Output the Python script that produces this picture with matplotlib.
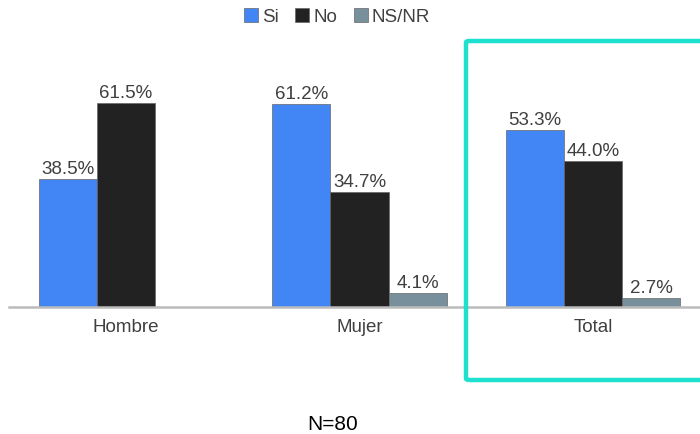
import matplotlib
matplotlib.use("Agg")
import matplotlib.pyplot as plt
import numpy as np
from matplotlib.patches import FancyBboxPatch

categories = ["Hombre", "Mujer", "Total"]
series_names = ["Si", "No", "NS/NR"]
si = [38.5, 61.2, 53.3]
no = [61.5, 34.7, 44.0]
nsnr = [0.0, 4.1, 2.7]
colors = ["#4285F4", "#222222", "#78909C"]

plt.rcParams['font.family'] = ['Liberation Sans', 'DejaVu Sans']

W, H = 700, 434
fig = plt.figure(figsize=(7, 4.34), dpi=100)
# axes: x from 9 to 710 px, y bottom at 307 px, top at 40 px
ax = fig.add_axes([9 / W, (H - 307) / H, 701 / W, 267 / H])
ymax = 267 / 3.317
ax.set_ylim(0, ymax)
ax.set_xlim(-0.5, 2.5)

x = np.arange(len(categories))
bw = 0.2485
data = [si, no, nsnr]
for i, (vals, name, c) in enumerate(zip(data, series_names, colors)):
    pos = x + (i - 1) * bw
    ax.bar(pos, vals, width=bw, color=c, edgecolor="#666666", linewidth=0.5, label=name)
    for px, v in zip(pos, vals):
        if v > 0:
            ax.text(px, v + 0.3, f"{v:.1f}%", ha="center", va="bottom",
                    fontsize=13.5, color="#404040")

for s in ["top", "right", "left"]:
    ax.spines[s].set_visible(False)
ax.spines["bottom"].set_color("#bbbbbb")
ax.spines["bottom"].set_linewidth(1.8)
ax.set_yticks([])
ax.set_xticks(x)
ax.set_xticklabels(categories, fontsize=13.5, color="#404040")
ax.tick_params(axis="x", length=0, pad=9)

leg = fig.legend(loc="center", bbox_to_anchor=(337 / W, 1 - 17 / H), ncol=3,
                 frameon=False, fontsize=13.5, handlelength=0.75, handleheight=0.75,
                 handletextpad=0.2, columnspacing=0.9)
for t in leg.get_texts():
    t.set_color("#404040")

# highlight rectangle
rect = FancyBboxPatch((466 / W, (H - 380) / H), 260 / W, 339 / H,
                      boxstyle="round,pad=0,rounding_size=0.004",
                      transform=fig.transFigure, fill=False,
                      edgecolor="#1DE0CF", linewidth=3.2, clip_on=False)
fig.patches.append(rect)

fig.text(333 / W, 1 - 425 / H, "N=80", ha="center", va="center", fontsize=15, color="#000000")

fig.savefig("out.png", dpi=100)
